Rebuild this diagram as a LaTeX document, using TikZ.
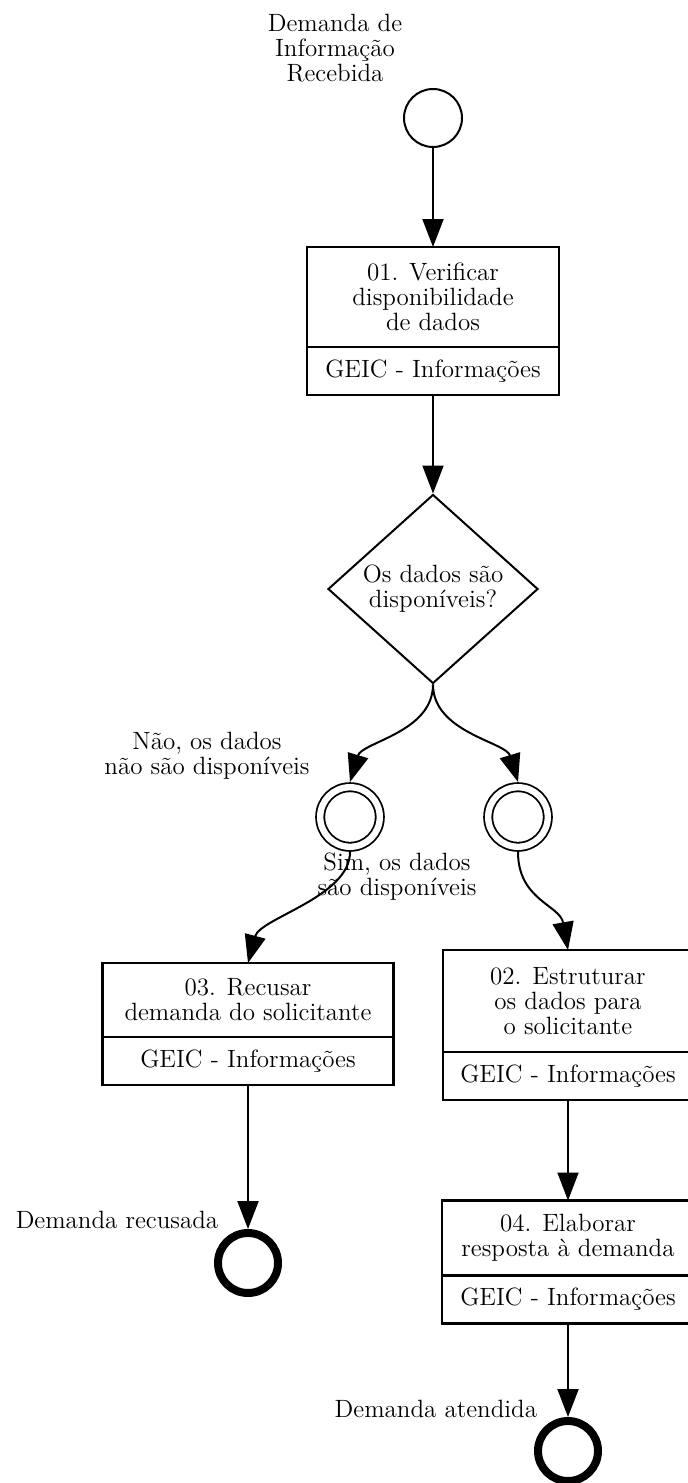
\documentclass[tikz,border=0pt]{standalone}
\usepackage{fontspec}
\usetikzlibrary{arrows.meta,shapes.geometric}

\tikzset{
  texto/.style={font=\fontsize{12.5}{12.5}\selectfont,align=center,inner sep=0pt},
  tarefa/.style={texto,draw,line width=1.2pt,rectangle,outer sep=0pt},
  inicio/.style={circle,draw,line width=1pt,minimum size=29pt,inner sep=0pt},
  intermed/.style={circle,draw,line width=0.9pt,double,double distance=3.2pt,
    minimum size=29.8pt,inner sep=0pt,outer sep=2.6pt},
  fim/.style={circle,draw,line width=4pt,minimum size=30pt,inner sep=0pt},
  decisao/.style={texto,diamond,draw,line width=1pt,aspect=1.11,
    minimum width=105pt,minimum height=94.5pt}
}

\begin{document}
\begin{tikzpicture}[x=0.5pt,y=-0.5pt,>={Triangle[length=14pt,width=10.5pt]},line width=1pt]
        \useasboundingbox (0,0) rectangle (688,1483);

        \node[inicio] (ini) at (433,118) {};
        \node[texto] (lini) at (335,48) {Demanda de\\Informação\\Recebida};

        % Tarefas com o setor por baixo
        \foreach \id/\x/\y/\w/\h/\txt in {
            t1/433/297/126/50/{01. Verificar\\disponibilidade\\de dados},
            t2/568/1001/125/51/{02. Estruturar\\os dados para\\o solicitante},
            t3/248/1000/145.5/37/{03. Recusar\\demanda do solicitante},
            t4/568/1238/126/37.5/{04. Elaborar\\resposta à demanda}}
        {
            \node[tarefa,minimum width=\w pt,minimum height=\h pt] (\id) at (\x,\y) {\txt};
            \node[tarefa,minimum width=\w pt,minimum height=24pt,anchor=north]
                (g\id) at (\id.south) {GEIC - Informações};
        }

        \node[decisao] (dec) at (433,589) {Os dados são\\disponíveis?};

        \node[intermed] (ev1) at (350,817) {};
        \node[intermed] (ev2) at (518,817) {};
        \node[texto] (lnao) at (207,756) {Não, os dados\\não são disponíveis};
        \node[texto] (lsim) at (397,877) {Sim, os dados\\são disponíveis};

        \node[fim] (fim1) at (248,1263) {};
        \node[fim] (fim2) at (568,1451) {};
        \node[texto] (lrec) at (117,1220) {Demanda recusada};
        \node[texto,anchor=east] (latd) at (538,1409) {Demanda atendida};

        \draw[->] (ini) -- (t1);
        \draw[->] (gt1) -- (dec);
        % Ramos curvos da decisão
        \draw[->] (dec.south) .. controls +(0,48) and +(12,-40) .. (ev1.north);
        \draw[->] (dec.south) .. controls +(0,48) and +(-12,-40) .. (ev2.north);
        \draw[->] (ev1.south) .. controls +(0,45) and +(12,-45) .. (t3.north);
        \draw[->] (ev2.south) .. controls +(0,48) and +(-8,-45) .. (t2.north);
        \draw[->] (gt3) -- (fim1);
        \draw[->] (gt2) -- (t4);
        \draw[->] (gt4) -- (fim2);
    \end{tikzpicture}
\end{document}
